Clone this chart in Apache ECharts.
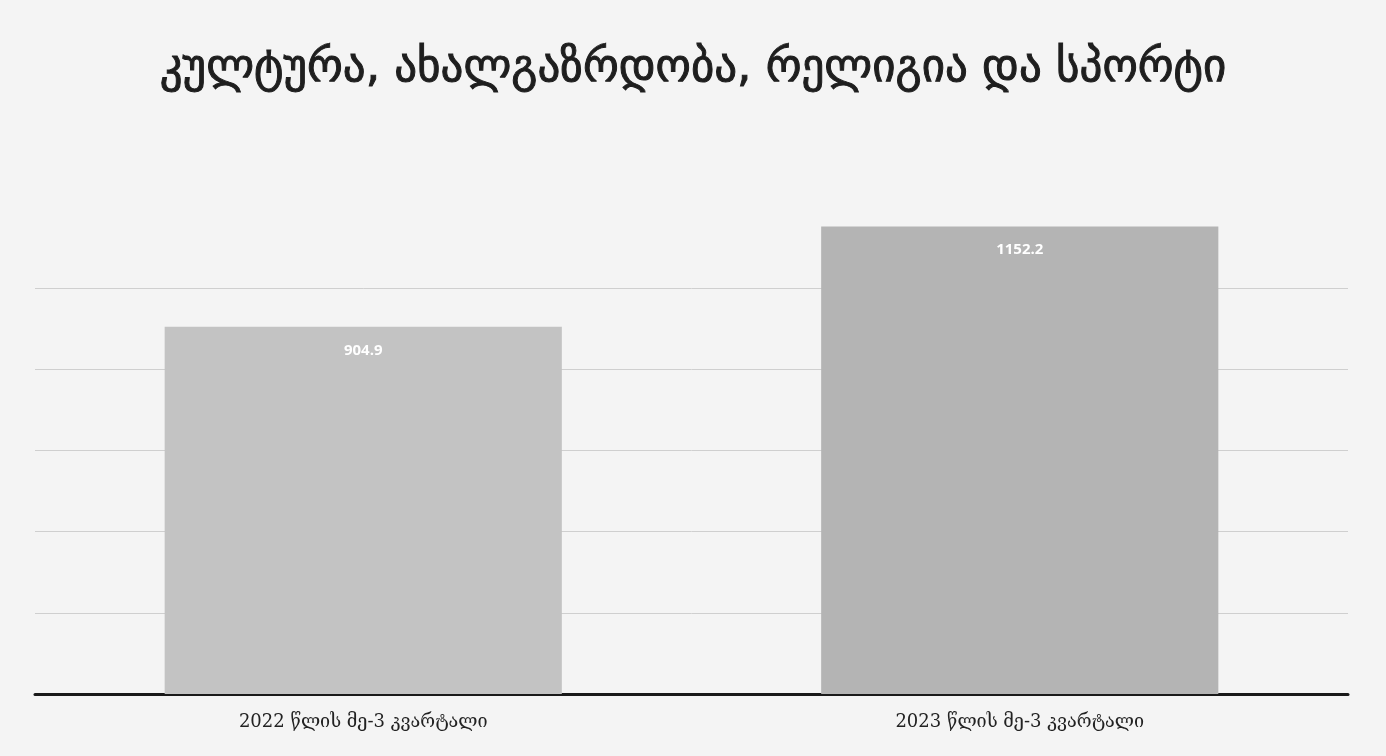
<!DOCTYPE html>
<html>
<head>
<meta charset="utf-8">
<script src="https://cdn.jsdelivr.net/npm/echarts@6/dist/echarts.min.js"></script>
<style>
  html, body { margin: 0; padding: 0; background: #f4f4f4; }
  #main { width: 1386px; height: 756px; }
</style>
</head>
<body>
<div id="main"></div>
<script>
// chart data
var titleText = 'კულტურა, ახალგაზრდობა, რელიგია და სპორტი'
var categories = ['2022 წლის მე-3 კვარტალი', '2023 წლის მე-3 კვარტალი']
var values = [904.9, 1152.2]
var barColors = ['#c3c3c3', '#b4b4b4']

var chart = echarts.init(document.getElementById('main'))

var option = {
  backgroundColor: '#f4f4f4',
  title: {
    text: titleText,
    left: 'center',
    top: 42,
    textStyle: {
      fontFamily: 'DejaVu Sans',
      fontSize: 45,
      fontWeight: 'normal',
      color: '#1e1e1e',
      textBorderColor: '#1e1e1e',
      textBorderWidth: 1
    }
  },
  grid: {
    left: 35,
    right: 38,
    top: 207,
    bottom: 62
  },
  xAxis: {
    type: 'category',
    data: categories,
    axisLine: {
      lineStyle: { color: '#1a1a1a', width: 3 }
    },
    axisTick: { show: false },
    axisLabel: {
      margin: 19,
      fontFamily: 'DejaVu Serif',
      fontSize: 18,
      color: '#222'
    }
  },
  yAxis: {
    type: 'value',
    min: 0,
    max: 1200,
    interval: 200,
    axisLabel: { show: false },
    axisLine: { show: false },
    axisTick: { show: false },
    splitLine: {
      lineStyle: {
        // last line (1200) hidden
        color: ['#cfcfcf', '#cfcfcf', '#cfcfcf', '#cfcfcf', '#cfcfcf', '#cfcfcf', 'rgba(0,0,0,0)'],
        width: 1
      }
    }
  },
  series: [{
    type: 'bar',
    barWidth: '60.5%',
    data: values.map(function (v, i) {
      return { value: v, itemStyle: { color: barColors[i] } }
    }),
    label: {
      show: true,
      position: 'insideTop',
      distance: 16,
      color: '#ffffff',
      fontFamily: 'Open Sans',
      fontWeight: 'bold',
      fontSize: 15
    }
  }]
}

chart.setOption(option)
</script>
</body>
</html>
